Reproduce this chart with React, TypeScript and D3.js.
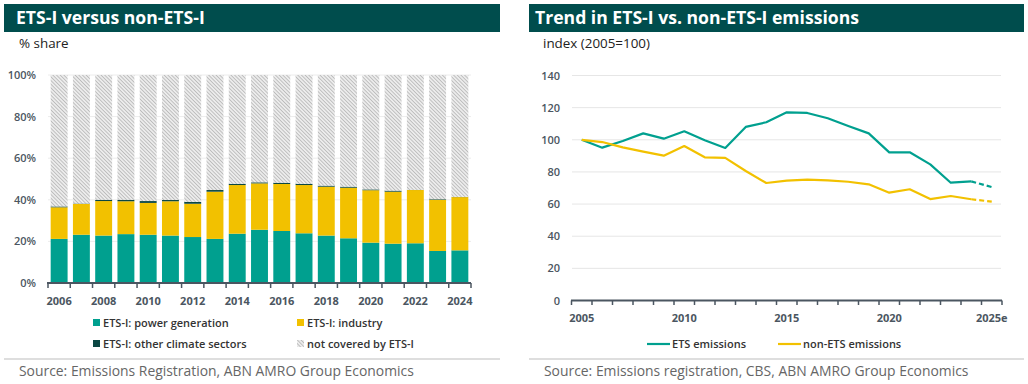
// @ts-nocheck
import React, { useEffect, useRef } from "react";
import * as d3 from "d3";

// left chart: share of emissions (%)
const barYears = ["2006","2007","2008","2009","2010","2011","2012","2013","2014","2015","2016","2017","2018","2019","2020","2021","2022","2023","2024"];
const powerShare = [21.2, 23.2, 22.8, 23.5, 23.2, 22.8, 22.1, 21.2, 23.7, 25.6, 25.0, 23.9, 22.8, 21.5, 19.4, 18.9, 19.1, 15.4, 15.7];
const industryShare = [15.2, 14.8, 16.6, 15.8, 15.3, 16.5, 16.0, 22.7, 23.4, 22.3, 22.6, 23.2, 23.5, 24.3, 25.2, 25.0, 25.6, 24.6, 25.6];
const otherShare = [0.4, 0.2, 0.6, 0.7, 0.9, 0.6, 0.9, 0.8, 0.6, 0.5, 0.6, 0.6, 0.5, 0.5, 0.4, 0.5, 0.1, 0.3, 0.1];
const pctTicks = [0, 20, 40, 60, 80, 100];
const barLabelYears = ["2006","2008","2010","2012","2014","2016","2018","2020","2022","2024"];

// right chart: index 2005=100
const lineYears = ["2005","2006","2007","2008","2009","2010","2011","2012","2013","2014","2015","2016","2017","2018","2019","2020","2021","2022","2023","2024","2025"];
const etsIndex = [100, 95.1, 99.2, 104.0, 100.7, 105.3, 99.7, 94.9, 108.0, 110.9, 117.1, 116.7, 113.4, 108.6, 104.0, 92.2, 92.2, 84.7, 73.3, 74.1, 70.6];
const nonEtsIndex = [100, 98.6, 95.3, 92.6, 90.1, 96.1, 89.1, 88.7, 80.6, 73.1, 74.6, 75.2, 74.8, 73.9, 72.3, 67.1, 69.2, 63.1, 65.0, 63.0, 61.5];
const indexTicks = [0, 20, 40, 60, 80, 100, 120, 140];
const lineLabels = { "2005": "2005", "2010": "2010", "2015": "2015", "2020": "2020", "2025": "2025e" };

const TEAL = "#00a08f";
const YELLOW = "#f2c100";
const DARK = "#0b4743";
const HEADER = "#004d4d";
const AXIS_TXT = "#4b5661";
const FONT = "'Open Sans', sans-serif";

function App() {
  const ref = useRef(null);

  useEffect(() => {
    document.body.style.margin = "0";
    const svg = d3.select(ref.current);
    svg.selectAll("*").remove();

    const defs = svg.append("defs");
    const pat = defs.append("pattern")
      .attr("id", "hatch")
      .attr("patternUnits", "userSpaceOnUse")
      .attr("width", 2.6)
      .attr("height", 2.6)
      .attr("patternTransform", "rotate(-45)");
    pat.append("rect").attr("width", 2.6).attr("height", 2.6).attr("fill", "#ececec");
    pat.append("line").attr("x1", 0).attr("y1", 0).attr("x2", 0).attr("y2", 2.6)
      .attr("stroke", "#a6a6a6").attr("stroke-width", 1.2);

    // headers
    const header = (x, w, tx, title, sx, sub) => {
      svg.append("rect").attr("x", x).attr("y", 4).attr("width", w).attr("height", 28).attr("fill", HEADER);
      svg.append("text").attr("x", tx).attr("y", 24).text(title)
        .attr("fill", "#fff").style("font-family", FONT).style("font-size", "17.6px").style("font-weight", 700);
      svg.append("text").attr("x", sx).attr("y", 48).text(sub)
        .attr("fill", "#222").style("font-family", FONT).style("font-size", "13.4px");
    };
    header(4, 496, 16, "ETS-I versus non-ETS-I", 19, "% share");
    header(529, 495, 535, "Trend in ETS-I vs. non-ETS-I emissions", 543, "index (2005=100)");

    // ---------- left bar chart
    const x = d3.scaleBand().domain(barYears).range([48, 471]).paddingInner(0.24).paddingOuter(0.12);
    const y = d3.scaleLinear().domain([0, 100]).range([283, 75]);
    const gL = svg.append("g");

    gL.selectAll(".grid").data(pctTicks.slice(1)).enter().append("line")
      .attr("x1", 48).attr("x2", 471).attr("y1", d => y(d)).attr("y2", d => y(d))
      .attr("stroke", "#ececec").attr("stroke-width", 1);

    const rows = barYears.map((yr, i) => ({
      yr,
      parts: [
        { k: "power", v0: 0, v1: powerShare[i], fill: TEAL },
        { k: "ind", v0: powerShare[i], v1: powerShare[i] + industryShare[i], fill: YELLOW },
        { k: "oth", v0: powerShare[i] + industryShare[i], v1: powerShare[i] + industryShare[i] + otherShare[i], fill: DARK },
        { k: "rest", v0: powerShare[i] + industryShare[i] + otherShare[i], v1: 100, fill: "url(#hatch)" },
      ],
    }));
    gL.selectAll(".bar").data(rows).enter().append("g")
      .attr("transform", d => `translate(${x(d.yr)},0)`)
      .selectAll("rect").data(d => d.parts).enter().append("rect")
      .attr("x", 0).attr("width", x.bandwidth())
      .attr("y", d => y(d.v1)).attr("height", d => y(d.v0) - y(d.v1))
      .attr("fill", d => d.fill);

    // y labels
    gL.selectAll(".yl").data(pctTicks).enter().append("text")
      .attr("x", 36).attr("y", d => y(d) + 4).attr("text-anchor", "end")
      .text(d => d + "%").attr("fill", AXIS_TXT)
      .style("font-family", FONT).style("font-size", "11px").style("font-weight", 600);

    // x axis
    gL.append("line").attr("x1", 47).attr("x2", 471).attr("y1", 283).attr("y2", 283)
      .attr("stroke", AXIS_TXT).attr("stroke-width", 2);
    const bounds = barYears.map(d => x(d) - (x.step() - x.bandwidth()) / 2).concat([471]);
    gL.selectAll(".xt").data(bounds).enter().append("line")
      .attr("x1", d => d).attr("x2", d => d).attr("y1", 283).attr("y2", 288)
      .attr("stroke", AXIS_TXT).attr("stroke-width", 1.5);
    gL.selectAll(".xl").data(barLabelYears).enter().append("text")
      .attr("x", d => x(d) + x.bandwidth() / 2).attr("y", 305).attr("text-anchor", "middle")
      .text(d => d).attr("fill", AXIS_TXT)
      .style("font-family", FONT).style("font-size", "11px").style("font-weight", 700);

    // legend
    const legL = [
      { label: "ETS-I: power generation", fill: TEAL, x: 93, y: 323 },
      { label: "ETS-I: industry", fill: YELLOW, x: 297, y: 323 },
      { label: "ETS-I: other climate sectors", fill: DARK, x: 93, y: 344 },
      { label: "not covered by ETS-I", fill: "url(#hatch)", x: 297, y: 344 },
    ];
    const lg = gL.selectAll(".lg").data(legL).enter().append("g")
      .attr("transform", d => `translate(${d.x},${d.y})`);
    lg.append("rect").attr("x", 0).attr("y", -4).attr("width", 7).attr("height", 7).attr("fill", d => d.fill);
    lg.append("text").attr("x", 10).attr("y", 4).text(d => d.label).attr("fill", "#333")
      .style("font-family", FONT).style("font-size", "11px").style("font-weight", 600);

    // ---------- right line chart
    const xr = d3.scaleBand().domain(lineYears).range([571.5, 1002]);
    const px = d => xr(d) + xr.bandwidth() / 2;
    const yr = d3.scaleLinear().domain([0, 140]).range([300.5, 75.5]);
    const gR = svg.append("g");

    gR.selectAll(".grid").data(indexTicks.slice(1)).enter().append("line")
      .attr("x1", 572).attr("x2", 1001).attr("y1", d => yr(d)).attr("y2", d => yr(d))
      .attr("stroke", "#e6e6e6").attr("stroke-width", 1);
    gR.selectAll(".yl").data(indexTicks).enter().append("text")
      .attr("x", 560).attr("y", d => yr(d) + 4).attr("text-anchor", "end")
      .text(d => d).attr("fill", AXIS_TXT)
      .style("font-family", FONT).style("font-size", "11px").style("font-weight", 600);

    gR.append("line").attr("x1", 571).attr("x2", 1002).attr("y1", 300.5).attr("y2", 300.5)
      .attr("stroke", AXIS_TXT).attr("stroke-width", 2);
    const rb = lineYears.map(d => xr(d)).concat([1002]);
    gR.selectAll(".xt").data(rb).enter().append("line")
      .attr("x1", d => d).attr("x2", d => d).attr("y1", 300.5).attr("y2", 305)
      .attr("stroke", AXIS_TXT).attr("stroke-width", 1.5);
    gR.selectAll(".xl").data(Object.keys(lineLabels)).enter().append("text")
      .attr("x", d => px(d)).attr("y", 322).attr("text-anchor", "middle")
      .text(d => lineLabels[d]).attr("fill", AXIS_TXT)
      .style("font-family", FONT).style("font-size", "11px").style("font-weight", 700);

    const line = d3.line().x(d => px(d.yr)).y(d => yr(d.v));
    const series = [
      { vals: etsIndex, color: TEAL },
      { vals: nonEtsIndex, color: YELLOW },
    ];
    series.forEach(s => {
      const pts = lineYears.map((yrs, i) => ({ yr: yrs, v: s.vals[i] }));
      const n = pts.length;
      gR.append("path").attr("d", line(pts.slice(0, n - 1))).attr("fill", "none")
        .attr("stroke", s.color).attr("stroke-width", 2.2).attr("stroke-linejoin", "round");
      gR.append("path").attr("d", line(pts.slice(n - 2))).attr("fill", "none")
        .attr("stroke", s.color).attr("stroke-width", 2.2).attr("stroke-dasharray", "5,3");
    });

    const legR = [
      { label: "ETS emissions", color: TEAL, x: 647 },
      { label: "non-ETS emissions", color: YELLOW, x: 778 },
    ];
    const lr = gR.selectAll(".lr").data(legR).enter().append("g")
      .attr("transform", d => `translate(${d.x},344)`);
    lr.append("line").attr("x1", 0).attr("x2", 23).attr("y1", 0).attr("y2", 0)
      .attr("stroke", d => d.color).attr("stroke-width", 2.2);
    lr.append("text").attr("x", 25).attr("y", 4).text(d => d.label).attr("fill", "#333")
      .style("font-family", FONT).style("font-size", "11px").style("font-weight", 600);

    // separators and sources
    const foot = (x1, x2, src) => {
      svg.append("line").attr("x1", x1).attr("x2", x2).attr("y1", 359).attr("y2", 359)
        .attr("stroke", "#bdbdbd").attr("stroke-width", 1);
      svg.append("text").attr("x", x1 + 15).attr("y", 376).text(src).attr("fill", "#666")
        .style("font-family", FONT).style("font-size", "13.9px");
    };
    foot(4, 500, "Source: Emissions Registration, ABN AMRO Group Economics");
    foot(529, 1024, "Source: Emissions registration, CBS, ABN AMRO Group Economics");
  }, []);

  return <svg ref={ref} width={1028} height={384} style={{ display: "block", background: "#fff" }} />;
}

export default App;
